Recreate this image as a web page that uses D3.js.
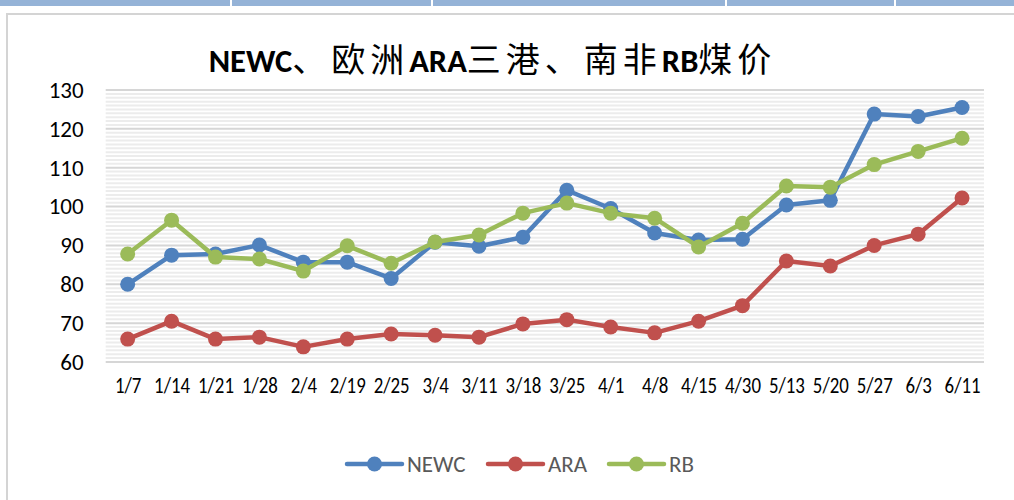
<!DOCTYPE html>
<html><head><meta charset="utf-8">
<script src="https://cdn.jsdelivr.net/npm/d3@7/dist/d3.min.js"></script>
<style>body{margin:0;background:#fff}svg{display:block}</style>
</head><body>
<svg id="c" width="1014" height="500"></svg>
<script>
const categories = ["1/7","1/14","1/21","1/28","2/4","2/19","2/25","3/4","3/11","3/18","3/25","4/1","4/8","4/15","4/30","5/13","5/20","5/27","6/3","6/11"];
const newc = [80,87.5,87.8,90.1,85.7,85.7,81.5,90.8,89.8,92.1,104.2,99.5,93.2,91.4,91.6,100.4,101.6,123.8,123.2,125.5];
const ara  = [65.9,70.5,65.9,66.4,63.9,65.9,67.2,66.9,66.4,69.8,70.9,69,67.5,70.5,74.5,86,84.7,90,92.9,102.2];
const rb   = [87.8,96.5,87,86.5,83.4,89.9,85.4,90.9,92.7,98.3,100.9,98.3,97,89.6,95.7,105.3,105,110.8,114.2,117.6];
const seriesNames = ["NEWC","ARA","RB"];
const seriesColors = ["#4F81BD","#C0504D","#9BBB59"];
const yTicks = [60,70,80,90,100,110,120,130];
const title = "NEWC、欧洲ARA三港、南非RB煤价";

const svg = d3.select("#c");
// top decoration strip
const stripEdges = [0,230,431,725,894,1014];
for (let i=0;i<stripEdges.length-1;i++){
  svg.append("rect").attr("x",stripEdges[i]+(i?2:0)).attr("y",0)
    .attr("width",stripEdges[i+1]-stripEdges[i]-(i?2:0)).attr("height",6).attr("fill","#95B3D7");
}
// chart frame
svg.append("rect").attr("x",7).attr("y",14).attr("width",1030).attr("height",520)
  .attr("fill","#fff").attr("stroke","#d4d4d4").attr("stroke-width",2);

const L=105.7, R=984, T=90, B=362;
const x = d3.scalePoint().domain(categories).range([L,R]).padding(0.5);
const y = d3.scaleLinear().domain([60,130]).range([B,T]);

// minor gridlines
const minor = d3.range(60,130,1).filter(v=>v%10!==0);
svg.append("g").selectAll("line").data(minor).join("line")
  .attr("x1",L).attr("x2",R).attr("y1",d=>y(d)).attr("y2",d=>y(d))
  .attr("stroke","#ececec").attr("stroke-width",2);
// major gridlines
svg.append("g").selectAll("line").data(yTicks).join("line")
  .attr("x1",L).attr("x2",R).attr("y1",d=>y(d)).attr("y2",d=>y(d))
  .attr("stroke","#d6d6d6").attr("stroke-width",2);

// y axis labels
const yAxis = d3.axisLeft(y).tickValues(yTicks).tickSize(0).tickPadding(22);
const ya = svg.append("g").attr("transform",`translate(${L},0)`).call(yAxis);
ya.select(".domain").remove();
ya.selectAll("text").attr("font-family","Carlito, 'Liberation Sans', sans-serif").attr("font-size",23).attr("fill","#000");

// x axis labels
const xAxis = d3.axisBottom(x).tickSize(0).tickPadding(15);
const xa = svg.append("g").attr("transform",`translate(0,${B})`).call(xAxis);
xa.select(".domain").remove();
xa.selectAll("text").attr("font-family","Carlito, 'Liberation Sans', sans-serif").attr("font-size",23)
  .attr("fill","#000").attr("transform","scale(0.82,1)");

// title: latin bold, CJK regular
const tt = svg.append("text").attr("x",492.5).attr("y",72).attr("text-anchor","middle").attr("fill","#000");
const parts = title.match(/[A-Za-z]+|[^A-Za-z]+/g);
parts.forEach(p=>{
  const latin = /[A-Za-z]/.test(p);
  tt.append("tspan").text(p)
    .attr("font-family", latin ? "Carlito, 'Liberation Sans', sans-serif" : "'Noto Sans CJK SC', sans-serif")
    .attr("font-weight", latin ? "bold" : "normal")
    .attr("font-size", latin ? 32.5 : 34)
    .attr("letter-spacing", latin ? 0 : 5);
});

// series
const allSeries = [newc, ara, rb];
const line = d3.line().x((d,i)=>x(categories[i])).y(d=>y(d));
allSeries.forEach((s,k)=>{
  const g = svg.append("g");
  g.append("path").datum(s).attr("d",line).attr("fill","none")
    .attr("stroke",seriesColors[k]).attr("stroke-width",4.5).attr("stroke-linejoin","round");
  g.selectAll("circle").data(s).join("circle")
    .attr("cx",(d,i)=>x(categories[i])).attr("cy",d=>y(d)).attr("r",7.5).attr("fill",seriesColors[k]);
});

// legend
const legX = [347, 488, 609];
seriesNames.forEach((n,k)=>{
  const g = svg.append("g").attr("transform",`translate(${legX[k]},464)`);
  g.append("line").attr("x1",0).attr("x2",55).attr("stroke",seriesColors[k]).attr("stroke-width",4.5).attr("stroke-linecap","round");
  g.append("circle").attr("cx",27.5).attr("r",7.5).attr("fill",seriesColors[k]);
  g.append("text").attr("x",60).attr("y",8).attr("font-family","Carlito, 'Liberation Sans', sans-serif")
    .attr("font-size",23).attr("fill","#595959").text(n);
});
</script>
</body></html>
